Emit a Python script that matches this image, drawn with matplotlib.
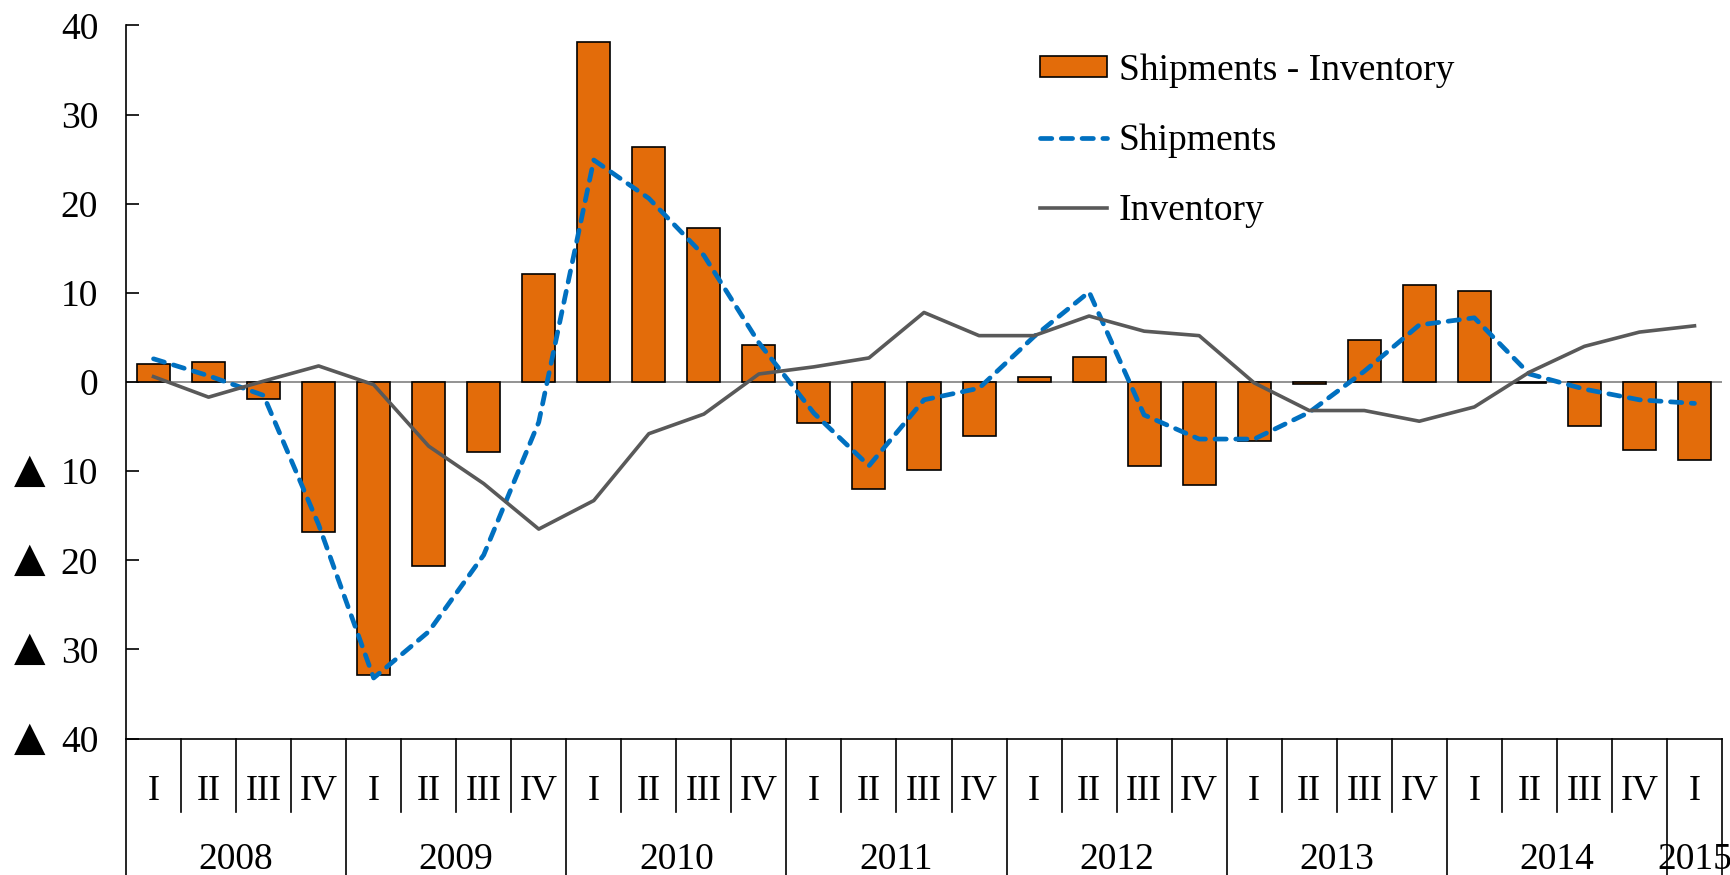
import matplotlib
matplotlib.use("Agg")
import matplotlib.pyplot as plt
from matplotlib.ticker import FuncFormatter

plt.rcParams['font.family'] = ['Liberation Serif', 'DejaVu Sans']

years = ["2008", "2009", "2010", "2011", "2012", "2013", "2014", "2015"]
quarters = ["I", "II", "III", "IV"] * 7 + ["I"]
yticks = [-40, -30, -20, -10, 0, 10, 20, 30, 40]

diff = [2.0, 2.2, -1.9, -16.8, -32.9, -20.6, -7.8, 12.1,
        38.1, 26.4, 17.3, 4.2, -4.6, -12.0, -9.9, -6.1,
        0.6, 2.8, -9.4, -11.5, -6.6, -0.2, 4.7, 10.9,
        10.2, -0.1, -4.9, -7.6, -8.7]
shipments = [2.6, 0.7, -1.5, -16.0, -33.2, -28.0, -19.4, -4.5,
             24.9, 20.6, 14.2, 4.4, -3.5, -9.4, -2.0, -0.7,
             5.1, 10.1, -3.7, -6.4, -6.4, -3.4, 1.2, 6.4,
             7.2, 0.9, -0.8, -2.0, -2.4]
inventory = [0.6, -1.7, 0.1, 1.8, -0.3, -7.2, -11.4, -16.5,
             -13.3, -5.8, -3.6, 0.9, 1.7, 2.7, 7.8, 5.2,
             5.2, 7.4, 5.7, 5.2, -0.1, -3.2, -3.2, -4.4,
             -2.8, 1.1, 4.0, 5.6, 6.3]

W, H = 1731, 875
fig = plt.figure(figsize=(W / 100, H / 100), dpi=100)
ax_left, ax_right, ax_top, ax_bot = 126, 1722, 25.4, 738.6
ax = fig.add_axes([ax_left / W, 1 - ax_bot / H, (ax_right - ax_left) / W, (ax_bot - ax_top) / H])

x = list(range(len(diff)))
hb = ax.bar(x, diff, width=0.6, color='#E36C0A', edgecolor='black', linewidth=1.2,
            label='Shipments - Inventory', zorder=2)
ax.axhline(0, color='#808080', linewidth=1.2, zorder=1)
hs, = ax.plot(x, shipments, color='#0070C0', linewidth=3.4, linestyle=(0, (2.4, 2.0)),
              dash_capstyle='round', label='Shipments', zorder=3)
hi, = ax.plot(x, inventory, color='#595959', linewidth=2.6, label='Inventory', zorder=3)

ax.set_xlim(-0.5, len(diff) - 0.5)
ax.set_ylim(-40, 40)
ax.set_yticks(yticks)
ax.yaxis.set_major_formatter(FuncFormatter(lambda v, p: f"{abs(int(round(v)))}"))
ax.tick_params(axis='y', direction='in', length=9, width=1.2, labelsize=27, pad=20)
ax.set_xticks([])
for s in ['top', 'right']:
    ax.spines[s].set_visible(False)
ax.spines['left'].set_linewidth(1.2)
ax.spines['bottom'].set_linewidth(1.2)

# negative markers (▲) before negative tick labels
ytr = ax.get_yaxis_transform()
for v in yticks:
    if v < 0:
        ax.text(-(ax_left - 45) / (ax_right - ax_left), v, "▲", transform=ytr,
                ha='right', va='center', fontsize=29.5, family='DejaVu Sans',
                clip_on=False)

tr = ax.get_xaxis_transform()
ah = ax_bot - ax_top
q_bottom = -(811.7 - ax_bot) / ah
y_bottom = -(875 - ax_bot) / ah
n = len(diff)
for i in range(n + 1):
    b = i - 0.5
    full = (i % 4 == 0) or i == n
    ax.plot([b, b], [0, y_bottom if full else q_bottom], color='black', lw=1.2,
            transform=tr, clip_on=False)
for i, q in enumerate(quarters):
    ax.text(i, -(787 - ax_bot) / ah, q, transform=tr, ha='center',
            va='center_baseline', fontsize=26)
for k, yr in enumerate(years):
    start = 4 * k
    end = min(4 * k + 3, n - 1)
    ax.text((start + end) / 2, -(856 - ax_bot) / ah, yr, transform=tr,
            ha='center', va='center_baseline', fontsize=27)

leg = ax.legend([hb, hs, hi], ['Shipments - Inventory', 'Shipments', 'Inventory'],
                loc='upper left', bbox_to_anchor=(1040 / W, 1 - 53 / H),
                bbox_transform=fig.transFigure, frameon=False, fontsize=27,
                handlelength=1.8, handleheight=0.5, handletextpad=0.3,
                labelspacing=0.95, borderaxespad=0, borderpad=0)

fig.savefig('out.png', dpi=100)
